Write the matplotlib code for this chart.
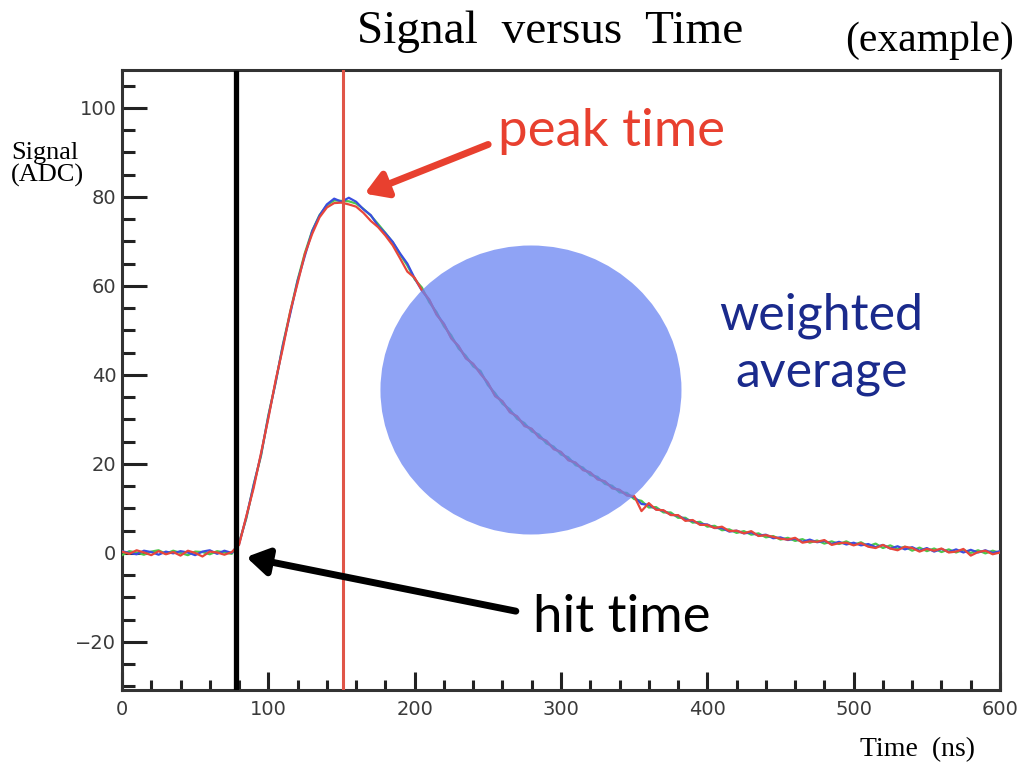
import numpy as np
import matplotlib.pyplot as plt
from matplotlib.patches import Ellipse

# sample grid (ns)
t_ns = np.arange(0, 601, 5)

# three readout traces (ADC counts)
sig_red = [0.3, -0.2, 0.6, 0.1, -0.5, 0.4, -0.3, 0.2, -0.6, 0.5,
           0.0, -0.8, 0.3, 0.1, -0.4, 0.2, 1.8, 8.3, 14.6, 22.4,
           30.2, 38.8, 46.1, 54.3, 60.6, 67.2, 71.7, 75.4, 77.6, 78.6,
           78.7, 78.3, 77.8, 76.4, 74.6, 73.2, 71.3, 69.1, 66.2, 63.2,
           61.8, 59.0, 56.9, 53.5, 51.4, 48.2, 46.5, 43.7, 42.5, 40.2,
           38.3, 35.2, 34.1, 31.6, 30.7, 28.5, 27.9, 25.9, 25.2, 23.3,
           22.7, 20.8, 20.3, 18.6, 18.1, 16.5, 16.1, 14.5, 14.2, 12.9,
           12.8, 9.4, 11.2, 9.7, 9.6, 8.5, 8.5, 7.2, 7.4, 6.3,
           6.3, 5.6, 5.9, 4.9, 5.0, 4.4, 4.9, 3.8, 4.0, 3.6,
           3.2, 3.0, 3.4, 2.3, 2.6, 2.5, 2.9, 1.8, 2.2, 2.3,
           1.7, 2.2, 1.4, 1.1, 1.8, 1.0, 0.6, 1.4, 1.1, 0.3,
           0.9, 0.5, 1.0, 0.1, 0.3, 0.9, -0.6, 0.2, 0.5, -0.3,
           0.1]
sig_green = [-0.5, 0.4, 0.1, -0.4, 0.3, 0.6, -0.2, 0.5, 0.0, -0.5,
             0.3, 0.2, -0.3, 0.4, 0.1, -0.2, 2.3, 7.8, 15.4, 21.8,
             30.9, 38.3, 46.9, 54.2, 61.3, 67.4, 72.4, 75.9, 78.1, 79.2,
             79.1, 79.0, 78.5, 77.3, 75.8, 73.9, 71.9, 69.8, 67.1, 64.6,
             61.5, 59.6, 56.3, 54.1, 50.9, 48.9, 45.9, 44.3, 41.9, 40.9,
             37.7, 35.9, 33.5, 32.3, 30.1, 29.2, 27.3, 26.6, 24.6, 23.9,
             22.1, 21.5, 19.7, 19.2, 17.5, 17.1, 15.5, 15.1, 13.6, 13.5,
             12.1, 11.7, 10.2, 10.3, 9.1, 9.1, 7.9, 7.9, 6.8, 7.0,
             5.9, 6.1, 5.1, 5.3, 4.5, 4.9, 4.1, 4.4, 3.5, 3.8,
             3.0, 3.4, 2.7, 3.1, 2.3, 2.8, 2.1, 2.6, 2.0, 2.6,
             1.8, 2.4, 1.5, 2.1, 1.1, 1.7, 0.9, 1.4, 0.5, 1.2,
             0.4, 1.0, 0.2, 0.8, 0.1, 0.7, 0.0, 0.6, -0.1, 0.5,
             0.0]
sig_blue = [0.4, 0.0, -0.3, 0.5, 0.2, -0.4, 0.3, -0.1, 0.4, 0.1,
            -0.5, 0.3, 0.6, -0.2, 0.5, 0.0, 2.0, 8.1, 15.2, 22.1,
            30.6, 38.4, 46.7, 53.8, 61.1, 66.8, 72.3, 75.8, 78.3, 79.6,
            78.9, 79.8, 78.9, 77.2, 75.9, 73.5, 71.8, 69.9, 67.3, 65.0,
            61.7, 58.9, 56.8, 53.6, 51.5, 48.3, 46.4, 43.8, 42.4, 40.4,
            38.1, 35.4, 34.0, 31.8, 30.6, 28.7, 27.8, 26.1, 25.1, 23.5,
            22.6, 21.0, 20.2, 18.8, 18.0, 16.7, 16.0, 14.7, 14.1, 13.0,
            12.6, 11.0, 10.8, 9.8, 9.5, 8.6, 8.4, 7.5, 7.2, 6.5,
            6.4, 5.6, 5.6, 4.8, 5.0, 4.4, 4.6, 3.9, 4.1, 3.3,
            3.5, 2.9, 3.2, 2.5, 3.0, 2.4, 2.7, 2.0, 2.5, 1.9,
            2.3, 1.7, 2.0, 1.3, 1.8, 1.0, 1.5, 0.8, 1.3, 0.5,
            1.1, 0.3, 0.9, 0.2, 0.8, 0.1, 0.7, 0.1, 0.6, 0.0,
            0.4]

hit_time = 78
peak_time = 151

serif = ['Liberation Serif', 'DejaVu Serif']
gill = ['Lato', 'DejaVu Sans']

fig = plt.figure(figsize=(10.32, 7.65), dpi=100)
ax = fig.add_axes([0.1182, 0.098, 0.8508, 0.8105])

ax.plot(t_ns, sig_green, color='#4cc84c', lw=1.6, zorder=3)
ax.plot(t_ns, sig_blue, color='#3a4de0', lw=1.6, zorder=3)
ax.plot(t_ns, sig_red, color='#e8463a', lw=1.6, zorder=3)

ax.axvline(hit_time, ymax=0.995, color='black', lw=3.8, zorder=4)
ax.axvline(peak_time, color='#e05548', lw=2.2, zorder=4)

ax.set_xlim(0, 600)
ax.set_ylim(-30.8, 108.5)
ax.set_xticks([0, 100, 200, 300, 400, 500, 600])
ax.set_xticks(np.arange(0, 601, 20), minor=True)
ax.set_yticks([-20, 0, 20, 40, 60, 80, 100])
ax.set_yticks(np.arange(-30, 108, 5), minor=True)
ax.tick_params(which='both', direction='in', width=2.2, color='#222222',
               labelsize=14, labelcolor='#3a3a3a')
ax.tick_params(axis='y', which='major', length=18, pad=4)
ax.tick_params(axis='y', which='minor', length=9)
ax.tick_params(axis='x', which='major', length=13, pad=7)
ax.tick_params(axis='x', which='minor', length=7)
for lab in ax.get_xticklabels() + ax.get_yticklabels():
    lab.set_family('DejaVu Sans')
for sp in ax.spines.values():
    sp.set_linewidth(2.2)
    sp.set_color('#333333')

# weighted-average blob
fig.add_artist(Ellipse((0.5145, 0.4902), 0.2917, 0.3778,
                       transform=fig.transFigure,
                       facecolor=(106 / 255, 132 / 255, 242 / 255),
                       alpha=0.75, edgecolor='none', zorder=5))

# arrows
ax.annotate('', xy=(164, 80.5), xytext=(252, 92),
            arrowprops=dict(arrowstyle='-|>,head_length=1.3,head_width=0.8',
                            color='#e8402f', lw=5), zorder=6)
ax.annotate('', xy=(83, -0.8), xytext=(271, -13.2),
            arrowprops=dict(arrowstyle='-|>,head_length=1.3,head_width=0.8',
                            color='black', lw=5), zorder=6)

fig.text(0.5925, 0.828, 'peak time', color='#e8402f', fontsize=38,
         family=gill, ha='center', va='center')
fig.text(0.602, 0.193, 'hit time', color='black', fontsize=38,
         family=gill, ha='center', va='center')
fig.text(0.796, 0.55, 'weighted\naverage', color='#1a2a8c', fontsize=36,
         family=gill, ha='center', va='center', linespacing=1.3)

fig.text(0.533, 0.958, 'Signal  versus  Time', fontsize=34, family=serif,
         ha='center', va='center')
fig.text(0.901, 0.947, '(example)', fontsize=30, family=serif,
         ha='center', va='center')
fig.text(0.011, 0.785, 'Signal\n(ADC)', fontsize=19, family=serif,
         ha='left', va='center', linespacing=0.95)
fig.text(0.889, 0.02, 'Time  (ns)', fontsize=20, family=serif,
         ha='center', va='center')

fig.savefig('out.png', dpi=100, facecolor='white')
